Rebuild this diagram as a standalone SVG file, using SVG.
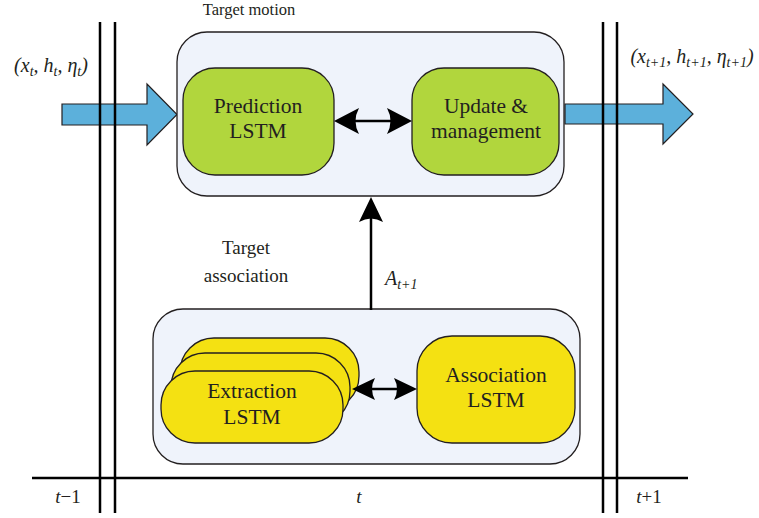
<svg xmlns="http://www.w3.org/2000/svg" width="759" height="518" viewBox="0 0 759 518" font-family="'Liberation Serif', 'DejaVu Serif', serif">
<style>
text{font-family:"Liberation Serif","DejaVu Serif",serif;fill:#231f20}
.n{font-family:"Liberation Serif",serif;font-size:21.5px;text-anchor:middle}
.l{font-family:"Liberation Serif",serif;font-size:19px;text-anchor:middle}
.m{font-family:"Liberation Serif",serif;font-size:20px;text-anchor:middle;font-style:italic}
.s{font-size:14px}
.i{font-style:italic}
.box{fill:#eff3fb;stroke:#231f20;stroke-width:1.3}
.g{fill:#b1d63d;stroke:#231f20;stroke-width:1.3}
.y{fill:#f4e112;stroke:#231f20;stroke-width:1.3}
.blue{fill:#5cb0db;stroke:#231f20;stroke-width:1.2}
.ln{stroke:#000;stroke-width:2.5;fill:none}
.hd{fill:#000}
</style>
<rect width="759" height="518" fill="#fff"/>
<g id="in-arrow">
<polygon class="blue" points="62,104 147,104 147,84 177,114.5 147,145 147,125 62,125"/>
<text class="m" x="51" y="72">(x<tspan class="s" dy="4">t</tspan><tspan dy="-4">, h</tspan><tspan class="s" dy="4">t</tspan><tspan dy="-4">, η</tspan><tspan class="s" dy="4">t</tspan><tspan dy="-4">)</tspan></text>
</g>
<g id="out-arrow">
<polygon class="blue" points="565,104 663,104 663,84 693,114 663,144 663,124 565,124"/>
<text class="m" x="692" y="63">(x<tspan class="s" dy="4">t+1</tspan><tspan dy="-4">, h</tspan><tspan class="s" dy="4">t+1</tspan><tspan dy="-4">, η</tspan><tspan class="s" dy="4">t+1</tspan><tspan dy="-4">)</tspan></text>
</g>
<g id="timeline">
<line class="ln" x1="32" y1="478" x2="688" y2="478"/>
<line class="ln" x1="100" y1="22" x2="100" y2="513"/>
<line class="ln" x1="115" y1="22" x2="115" y2="513"/>
<line class="ln" x1="603" y1="22" x2="603" y2="513"/>
<line class="ln" x1="617" y1="22" x2="617" y2="513"/>
<text class="l" x="68" y="503"><tspan class="i">t</tspan>−1</text>
<text class="l i" x="359" y="503">t</text>
<text class="l" x="649" y="503"><tspan class="i">t</tspan>+1</text>
</g>
<g id="target-motion">
<rect class="box" x="177" y="32" width="387" height="164" rx="30"/>
<text class="l" x="249" y="15" style="font-size:16.5px">Target motion</text>
</g>
<g id="prediction-lstm">
<rect class="g" x="183" y="68" width="151" height="107" rx="32"/>
<text class="n" x="258" y="113">Prediction</text>
<text class="n" x="258" y="138">LSTM</text>
</g>
<g id="update-management">
<rect class="g" x="412" y="68" width="147" height="107" rx="32"/>
<text class="n" x="486" y="113">Update &amp;</text>
<text class="n" x="486" y="138">management</text>
</g>
<g id="target-association">
<rect class="box" x="153" y="309" width="427" height="155" rx="30"/>
<text class="l" x="246" y="254">Target</text>
<text class="l" x="246" y="282">association</text>
</g>
<g id="extraction-lstm">
<rect class="y" x="180" y="338" width="179" height="72" rx="34"/>
<rect class="y" x="171" y="353" width="179" height="72" rx="34"/>
<rect class="y" x="161" y="371" width="182" height="72" rx="34"/>
<text class="n" x="252" y="398">Extraction</text>
<text class="n" x="252" y="424">LSTM</text>
</g>
<g id="association-lstm">
<rect class="y" x="417" y="336" width="158" height="107" rx="35"/>
<text class="n" x="496" y="382">Association</text>
<text class="n" x="496" y="407">LSTM</text>
</g>
<g id="connectors">
<line class="ln" x1="352" y1="121" x2="394" y2="121"/>
<path class="hd" d="M334,121 L359,108 Q352,121 359,134 Z"/>
<path class="hd" d="M412,121 L387,108 Q394,121 387,134 Z"/>
<line class="ln" x1="371" y1="216" x2="371" y2="310"/>
<path class="hd" d="M371,197 L383,222 Q371,215 359,222 Z"/>
<text class="m" x="385" y="285" style="text-anchor:start">A<tspan class="s" dy="4">t+1</tspan></text>
<line class="ln" x1="368" y1="389" x2="401" y2="389"/>
<path class="hd" d="M352,389 L375,378 Q369,389 375,400 Z"/>
<path class="hd" d="M417,389 L394,378 Q400,389 394,400 Z"/>
</g>
</svg>
